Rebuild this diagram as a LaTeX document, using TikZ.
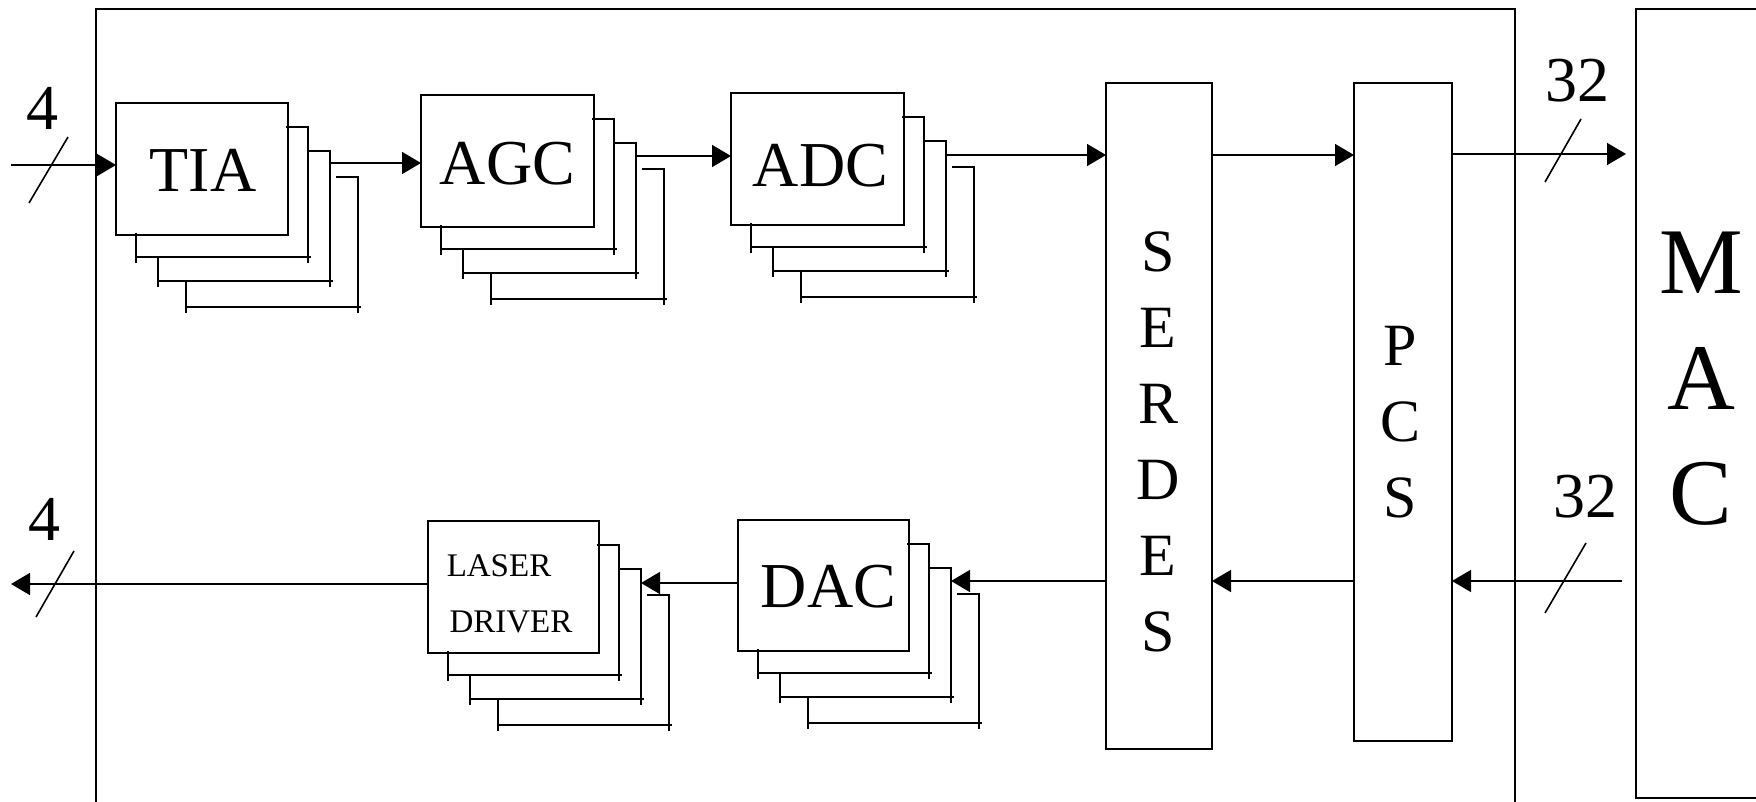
\documentclass[tikz,border=0pt]{standalone}
\usepackage{fontspec}
\setmainfont{Liberation Serif}
\usetikzlibrary{fit,calc,arrows.meta}
\tikzset{
  blk/.style={draw, line width=0.8pt, inner sep=0pt, outer sep=0pt},
  ln/.style={line width=0.8pt},
  arr/.style={ln, -{Triangle[length=9.5pt,width=11pt]}},
  big/.style={font=\fontsize{32}{38}\selectfont, inner sep=0pt},
  vtext/.style={font=\fontsize{30}{38}\selectfont, align=center, inner sep=0pt},
  small/.style={font=\fontsize{16.5}{20}\selectfont, inner sep=0pt},
}
\newcommand\stackshadow[1]{%
  \draw[ln] ($(#1.north east)+(-2,24)$) -- ($(#1.north east)+(20,24)$) -- ($(#1.south east)+(20,28)$);
  \draw[ln] ($(#1.south west)+(20,-2)$) -- ($(#1.south west)+(20,28)$);
  \draw[ln] ($(#1.south west)+(20,22)$) -- ($(#1.south east)+(23,22)$);
  \draw[ln] ($(#1.north east)+(20,48)$) -- ($(#1.north east)+(42,48)$) -- ($(#1.south east)+(42,52)$);
  \draw[ln] ($(#1.south west)+(42,21)$) -- ($(#1.south west)+(42,52)$);
  \draw[ln] ($(#1.south west)+(42,46)$) -- ($(#1.south east)+(45,46)$);
  \draw[ln] ($(#1.north east)+(48,74)$) -- ($(#1.north east)+(70,74)$) -- ($(#1.south east)+(70,78)$);
  \draw[ln] ($(#1.south west)+(70,45)$) -- ($(#1.south west)+(70,78)$);
  \draw[ln] ($(#1.south west)+(70,72)$) -- ($(#1.south east)+(73,72)$);
}
\begin{document}
\begin{tikzpicture}[x=0.5pt,y=-0.5pt]
\useasboundingbox (0,0) rectangle (1756,802);
\begin{scope}
  \clip (0,0) rectangle (1756,802);
  \node[blk, fit={(96,9) (1515,840)}] (board) {};
  \node[blk, fit={(1636,9) (1800,798)}] (mac) {};
\end{scope}
\node[font=\fontsize{47}{57.75}\selectfont, align=center, inner sep=0pt] (maclbl) at (1701,379) {M\\A\\C};

% receive chain
\node[blk, fit={(116,103) (288,235)}] (tia) {};
\stackshadow{tia}
\node[big] (tialbl) at ($(tia.center)+(1,1)$) {TIA};
\node[blk, fit={(421,95) (594,227)}] (agc) {};
\stackshadow{agc}
\node[big] (agclbl) at ($(agc.center)+(0,3)$) {AGC};
\node[blk, fit={(731,93) (904,225)}] (adc) {};
\stackshadow{adc}
\node[big] (adclbl) at ($(adc.center)+(3,7)$) {ADC};

% transmit chain
\node[blk, fit={(738,520) (909,651)}] (dac) {};
\stackshadow{dac}
\node[big] (daclbl) at ($(dac.center)+(5,1)$) {DAC};
\node[blk, fit={(428,521) (599,653)}] (laser) {};
\stackshadow{laser}
\node[small] (lasertxt) at (499,566) {LASER};
\node[small] (drivertxt) at (511,622) {DRIVER};

% SERDES and PCS
\node[blk, fit={(1106,83) (1212,749)}] (serdes) {};
\node[vtext] (serdeslbl) at (1158,442) {S\\E\\R\\D\\E\\S};
\node[blk, fit={(1354,83) (1452,741)}] (pcs) {};
\node[vtext] (pcslbl) at (1400,422) {P\\C\\S};

% labels
\node[big] (in4) at (42,108) {4};
\node[big] (out4) at (44,519) {4};
\node[big] (n32a) at (1577,81) {32};
\node[big] (n32b) at (1585,497) {32};

% receive connectors
\coordinate (inp) at (11,165);
\draw[arr] (inp) -- (inp -| tia.west);
\draw[ln] (29,203) -- (68,137);
\coordinate (tiaout) at ($(tia.north east)+(42,60)$);
\draw[arr] (tiaout) -- (tiaout -| agc.west);
\coordinate (agcout) at ($(agc.north east)+(42,61)$);
\draw[arr] (agcout) -- (agcout -| adc.west);
\coordinate (adcout) at ($(adc.north east)+(42,62)$);
\draw[arr] (adcout) -- (adcout -| serdes.west);
\draw[arr] (adcout -| serdes.east) -- (adcout -| pcs.west);
\coordinate (macin) at (1626,154);
\draw[arr] (macin -| pcs.east) -- (macin);
\draw[ln] (1545,182) -- (1581,119);

% transmit connectors
\coordinate (macout) at (1622,581);
\draw[arr] (macout) -- (macout -| pcs.east);
\draw[ln] (1545,613) -- (1586,543);
\draw[arr] (macout -| pcs.west) -- (macout -| serdes.east);
\coordinate (dacin) at ($(dac.north east)+(42,61)$);
\draw[arr] (macout -| serdes.west) -- (dacin);
\coordinate (ldin) at ($(laser.north east)+(42,62)$);
\draw[arr] (ldin -| dac.west) -- (ldin);
\coordinate (outp) at (11,584);
\draw[arr] (outp -| laser.west) -- (outp);
\draw[ln] (36,617) -- (74,551);
\end{tikzpicture}
\end{document}
